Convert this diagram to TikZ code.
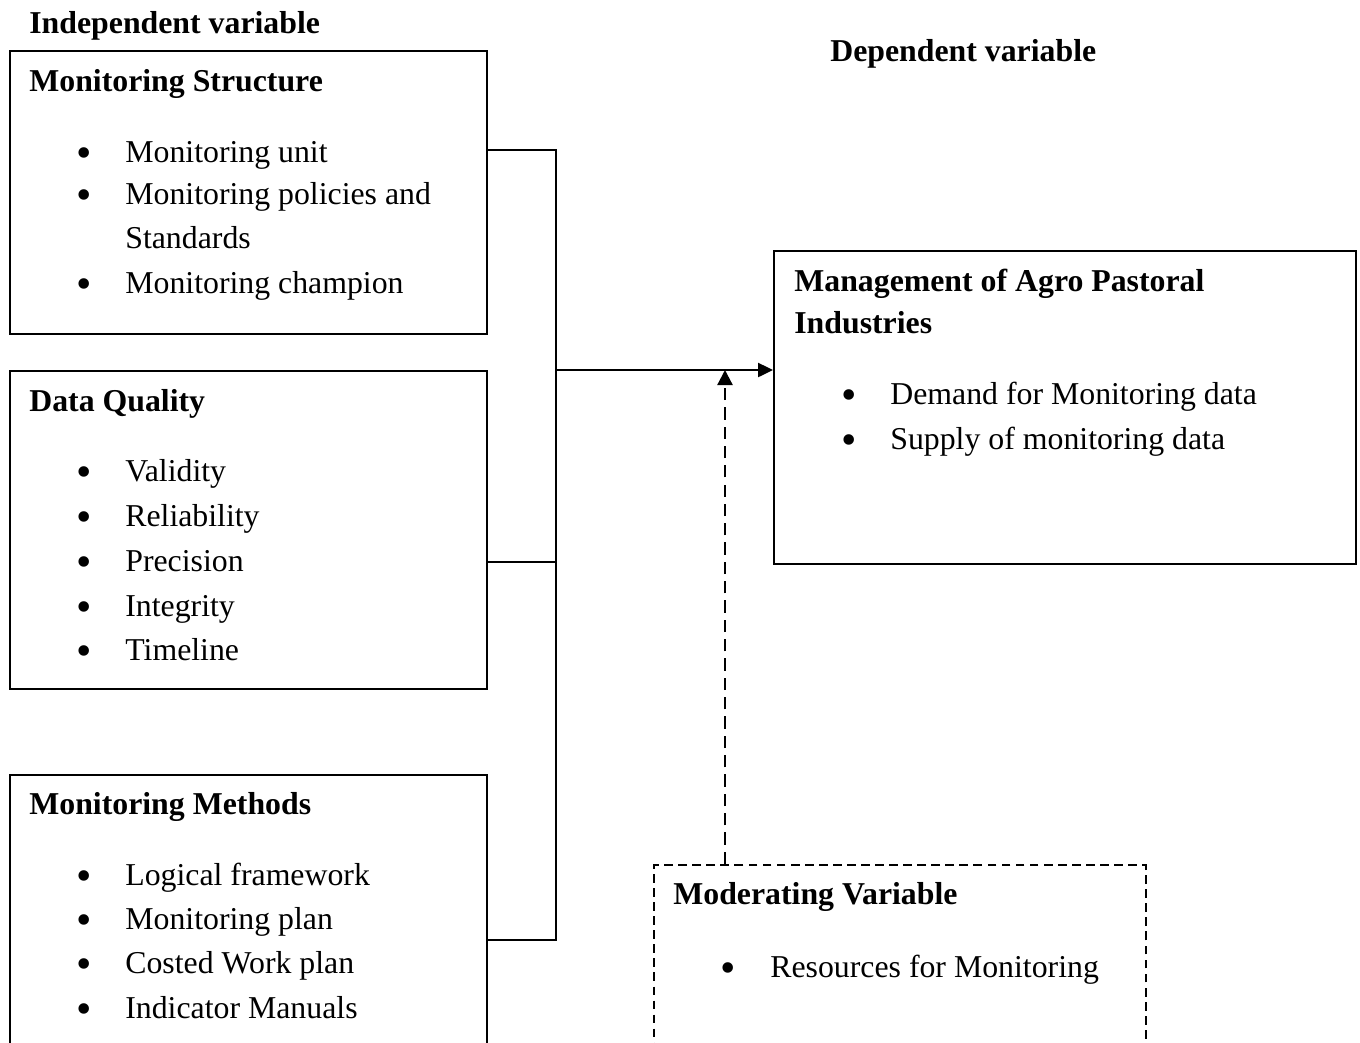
\documentclass[tikz,border=0pt]{standalone}
\usepackage{fontspec}
\setmainfont{Liberation Serif}
\usetikzlibrary{arrows.meta,positioning}

\tikzset{
  box/.style={draw, line width=1.1pt, rectangle, anchor=north west, inner sep=0pt},
  dbox/.style={box, dash pattern=on 5pt off 3pt},
  txt/.style={anchor=base west, inner sep=0pt, font=\fontsize{18.1}{25}\selectfont},
  hd/.style={txt, font=\fontsize{18.1}{25}\selectfont\bfseries},
  dot/.style={anchor=base, inner sep=0pt, yshift=-0.106cm, font=\fontsize{25}{25}\selectfont},
  link/.style={line width=1.1pt},
  arr/.style={line width=1.4pt, -{Triangle[length=0.3cm, width=0.28cm]}},
  darr/.style={line width=1.3pt, dash pattern=on 7pt off 4pt, -{Triangle[length=0.3cm, width=0.3cm]}},
}

\begin{document}
\begin{tikzpicture}[x=0.02cm, y=-0.02cm]
    \useasboundingbox (0,0) rectangle (1360,1042);
    \clip (0,0) rectangle (1360,1042);

    % Headings
    \node[hd] (indep) at (29,33) {Independent variable};
    \node[hd] (depend) at (830,61) {Dependent variable};

    % Boxes
    \node[box, minimum width=9.54cm, minimum height=5.66cm] (ms) at (9,50) {};
    \node[box, minimum width=9.54cm, minimum height=6.36cm] (dq) at (9,370) {};
    \node[box, minimum width=9.54cm, minimum height=6.4cm] (mm) at (9,774) {};
    \node[box, minimum width=11.64cm, minimum height=6.26cm] (dep) at (773,250) {};
    \node[dbox, minimum width=9.84cm, minimum height=4.6cm] (mod) at (653,864) {};

    % Monitoring Structure
    \node[hd] (msT) at (29,91) {Monitoring Structure};
    \foreach \y/\t [count=\i] in {162/Monitoring unit, 204/Monitoring policies and, 293/Monitoring champion} {
        \node[dot] at (84,\y) {\smash{\textbullet}};
        \node[txt] (ms\i) at (125,\y) {\t};
    }
    \node[txt] (ms4) at (125,248) {Standards};

    % Data Quality
    \node[hd] (dqT) at (29,411) {Data Quality};
    \foreach \y/\t [count=\i] in {481/Validity, 526/Reliability, 571/Precision, 616/Integrity, 660/Timeline} {
        \node[dot] at (84,\y) {\smash{\textbullet}};
        \node[txt] (dq\i) at (125,\y) {\t};
    }

    % Monitoring Methods
    \node[hd] (mmT) at (29,814) {Monitoring Methods};
    \foreach \y/\t [count=\i] in {885/Logical framework, 929/Monitoring plan, 973/Costed Work plan, 1018/Indicator Manuals} {
        \node[dot] at (84,\y) {\smash{\textbullet}};
        \node[txt] (mm\i) at (125,\y) {\t};
    }

    % Dependent box
    \node[hd] (depT) at (794,291) {Management of Agro Pastoral};
    \node[hd] (depT2) at (794,333) {Industries};
    \foreach \y/\t [count=\i] in {404/Demand for Monitoring data, 449/Supply of monitoring data} {
        \node[dot] at (849,\y) {\smash{\textbullet}};
        \node[txt] (dep\i) at (890,\y) {\t};
    }

    % Moderating box
    \node[hd] (modT) at (673,904) {Moderating Variable};
    \node[dot] at (728,977) {\smash{\textbullet}};
    \node[txt] (mod1) at (770,977) {Resources for Monitoring};

    % Connectors
    \coordinate (s1) at (556,150);
    \coordinate (s2) at (556,562);
    \coordinate (s3) at (556,940);
    \coordinate (hub) at (556,370);
    \coordinate (m) at (725,370);
    \draw[link] (s1 -| ms.east) -- (s1) -- (s3) -- (s3 -| mm.east);
    \draw[link] (s2 -| dq.east) -- (s2);
    \draw[arr] (hub) -- (hub -| dep.west);
    \draw[darr] (m |- mod.north) -- (m);
\end{tikzpicture}
\end{document}
